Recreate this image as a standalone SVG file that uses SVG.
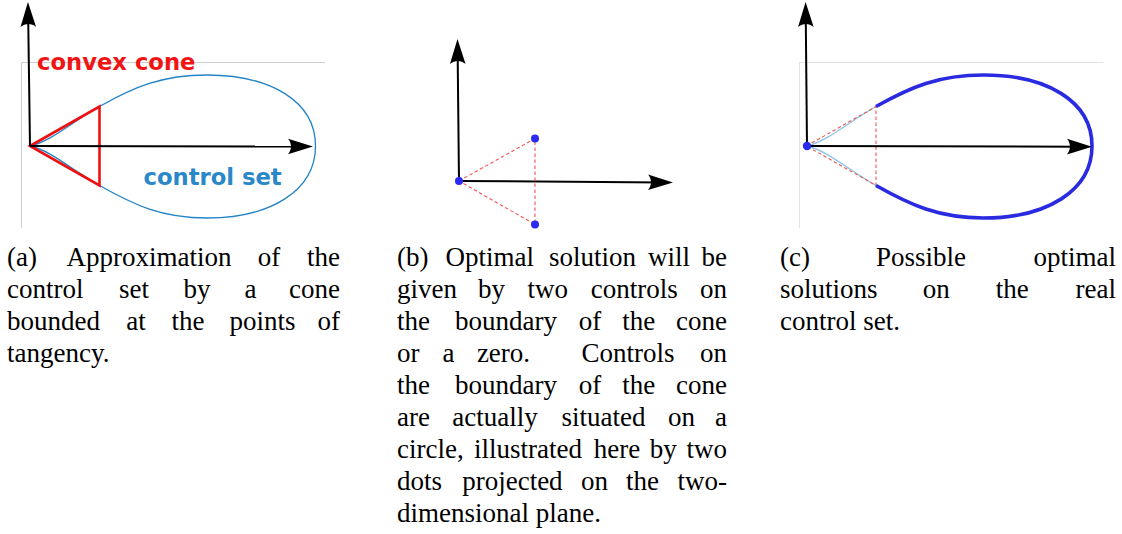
<svg xmlns="http://www.w3.org/2000/svg" width="1122" height="534" viewBox="0 0 1122 534">
<style>
.frame{fill:none;stroke:#cfcfcf;stroke-width:1}
.frame2{fill:none;stroke:#e3e3e3;stroke-width:1}
.axis{fill:none;stroke:#000;stroke-width:2;marker-end:url(#arr)}
.cap{font-family:"Liberation Serif","Times New Roman",serif;font-size:27px;fill:#000}
.lbl{font-family:"DejaVu Sans","Verdana",sans-serif;font-weight:bold;font-size:22.7px}
.dash{fill:none;stroke:#ee5555;stroke-width:1.1;stroke-dasharray:3.5 2.5}
.dot{fill:#2a2af0}
.e{text-anchor:end}
.m{text-anchor:middle}
</style>
<defs>
<marker id="arr" markerUnits="userSpaceOnUse" viewBox="-16 -9 28 18" markerWidth="28" markerHeight="18" refX="0" refY="0" orient="auto">
<path d="M10,0 L-15,-7.8 C-11,-3 -11,3 -15,7.8 Z" fill="#000"/>
</marker>
<path id="loopFull" d="M0,0 C20,-4 42,-24 69.5,-39.5 C104,-59 132,-71 177,-71 C240,-71 285.5,-45 285.5,0 C285.5,45 240,72 177,72 C132,72 104,59 69.5,39.5 C42,24 20,4 0,0 Z"/>
<path id="loopOuter" d="M69.5,-39.5 C104,-59 132,-71 177,-71 C240,-71 285.5,-45 285.5,0 C285.5,45 240,72 177,72 C132,72 104,59 69.5,39.5"/>
<path id="loopInner" d="M69.5,-39.5 C42,-24 20,-4 0,0 C20,4 42,24 69.5,39.5"/>
</defs>

<g id="panel-a">
<path class="frame" d="M21.5,228 V62.5 H325"/>
<use href="#loopFull" transform="translate(30,146)" fill="none" stroke="#2283c6" stroke-width="1.3"/>
<path id="cone" d="M30,146 L99.5,106.5 L99.5,185.5 Z" fill="none" stroke="#ee1111" stroke-width="2.6" stroke-linejoin="miter"/>
<g id="axes-a">
<line class="axis" x1="30" y1="146" x2="28.1" y2="12"/>
<line class="axis" x1="30" y1="146" x2="303" y2="146.6"/>
</g>
<text class="lbl" x="37" y="69.5" fill="#f01414">convex cone</text>
<text class="lbl" x="143.5" y="185" fill="#2a87c8">control set</text>
</g>

<g id="panel-b">
<g id="axes-b">
<line class="axis" x1="459" y1="181" x2="457.6" y2="49"/>
<line class="axis" x1="459" y1="181" x2="663" y2="182.4"/>
</g>
<path class="dash" d="M459,181 L535,138.5 L535,224.5 Z"/>
<circle class="dot" cx="459" cy="181" r="4"/>
<circle class="dot" cx="535" cy="138.5" r="4"/>
<circle class="dot" cx="535" cy="224.5" r="4"/>
</g>

<g id="panel-c">
<path class="frame2" d="M799.5,228 V62.5 H1103"/>
<use href="#loopInner" transform="translate(806.5,146)" fill="none" stroke="#8cc4e8" stroke-width="1.3"/>
<path class="dash" d="M806.5,146 L876,106.5 L876,185.5 Z"/>
<use href="#loopOuter" transform="translate(806.5,146)" fill="none" stroke="#2a2ae0" stroke-width="3.6"/>
<g id="axes-c">
<line class="axis" x1="807" y1="146" x2="805.7" y2="12"/>
<line class="axis" x1="807" y1="146" x2="1082" y2="146.7"/>
</g>
<circle class="dot" cx="807" cy="146" r="4.2" fill="#1a1aff"/>
</g>

<g id="caption-a" class="cap">
<text y="265.5"><tspan x="7">(a)</tspan><tspan class="m" x="149.1">Approximation</tspan><tspan class="m" x="269">of</tspan><tspan class="e" x="340">the</tspan></text>
<text y="297.5"><tspan x="7">control</tspan><tspan class="m" x="134">set</tspan><tspan class="m" x="196.9">by</tspan><tspan class="m" x="250.5">a</tspan><tspan class="e" x="340">cone</tspan></text>
<text y="329.5"><tspan x="7">bounded</tspan><tspan class="m" x="136.1">at</tspan><tspan class="m" x="188">the</tspan><tspan class="m" x="262.6">points</tspan><tspan class="e" x="340">of</tspan></text>
<text y="361.5" x="7">tangency.</text>
</g>

<g id="caption-b" class="cap">
<text y="265.5"><tspan x="397">(b)</tspan><tspan class="m" x="489.8">Optimal</tspan><tspan class="m" x="592.5">solution</tspan><tspan class="m" x="669">will</tspan><tspan class="e" x="727">be</tspan></text>
<text y="297.5"><tspan x="397">given</tspan><tspan class="m" x="491.5">by</tspan><tspan class="m" x="547.7">two</tspan><tspan class="m" x="634.2">controls</tspan><tspan class="e" x="727">on</tspan></text>
<text y="329.5"><tspan x="397">the</tspan><tspan class="m" x="506">boundary</tspan><tspan class="m" x="590">of</tspan><tspan class="m" x="638.8">the</tspan><tspan class="e" x="727">cone</tspan></text>
<text y="361.5"><tspan x="397">or</tspan><tspan class="m" x="448.5">a</tspan><tspan class="m" x="503.5">zero.</tspan><tspan class="m" x="628">Controls</tspan><tspan class="e" x="727">on</tspan></text>
<text y="393.5"><tspan x="397">the</tspan><tspan class="m" x="506">boundary</tspan><tspan class="m" x="590">of</tspan><tspan class="m" x="638.8">the</tspan><tspan class="e" x="727">cone</tspan></text>
<text y="425.5"><tspan x="397">are</tspan><tspan class="m" x="495">actually</tspan><tspan class="m" x="603.6">situated</tspan><tspan class="m" x="681.4">on</tspan><tspan class="e" x="727">a</tspan></text>
<text y="457.5"><tspan x="397">circle,</tspan><tspan class="m" x="527.9">illustrated</tspan><tspan class="m" x="617">here</tspan><tspan class="m" x="663.2">by</tspan><tspan class="e" x="727">two</tspan></text>
<text y="489.5"><tspan x="397">dots</tspan><tspan class="m" x="512.4">projected</tspan><tspan class="m" x="594.4">on</tspan><tspan class="m" x="642.6">the</tspan><tspan class="e" x="727">two-</tspan></text>
<text y="521.5" x="397">dimensional plane.</text>
</g>

<g id="caption-c" class="cap">
<text y="265.5"><tspan x="780">(c)</tspan><tspan class="m" x="921.1">Possible</tspan><tspan class="e" x="1116">optimal</tspan></text>
<text y="297.5"><tspan x="780">solutions</tspan><tspan class="m" x="936.3">on</tspan><tspan class="m" x="1012.2">the</tspan><tspan class="e" x="1116">real</tspan></text>
<text y="329.5" x="780">control set.</text>
</g>
</svg>
